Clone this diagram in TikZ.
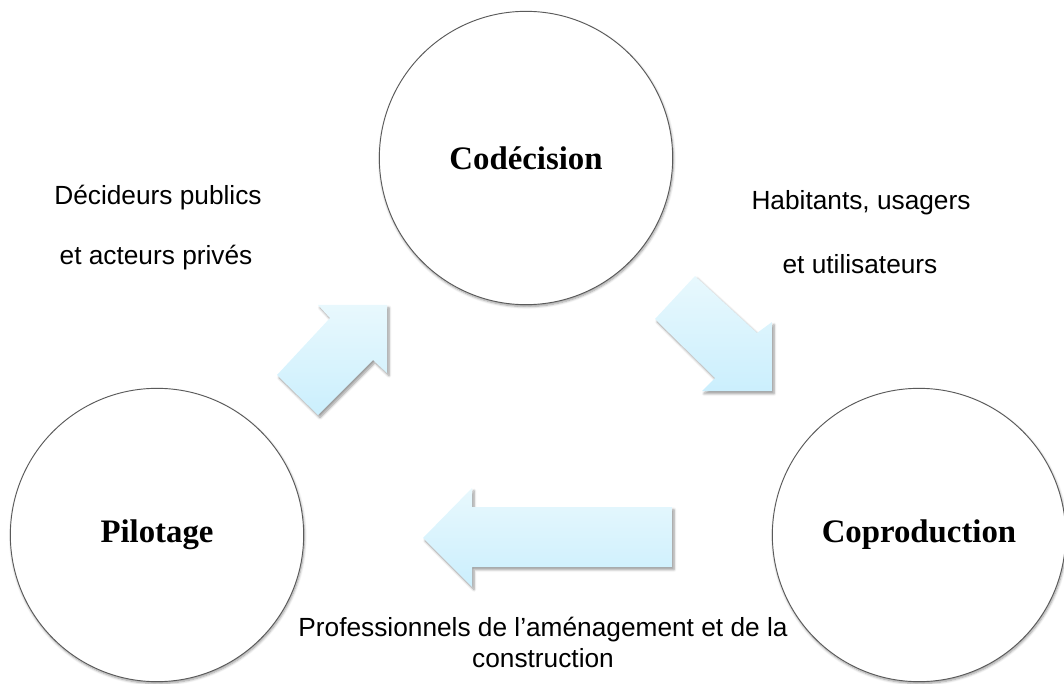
\documentclass[tikz,border=0pt]{standalone}
\usepackage{fontspec}
\setmainfont{Liberation Serif}
\newfontfamily\labelsans{Liberation Sans}
\usetikzlibrary{shadows.blur}
\definecolor{arrtop}{HTML}{E8F8FD}
\definecolor{arrbot}{HTML}{CBEFFD}
\definecolor{ringcol}{HTML}{5A5A5A}
\tikzset{
  stage/.style={circle, draw=ringcol, line width=0.7pt, fill=white, minimum size=220pt, inner sep=0pt,
    font=\fontsize{24.6}{28}\selectfont\bfseries,
    blur shadow={shadow xshift=0.6pt, shadow yshift=-1.4pt, shadow blur steps=6, shadow opacity=40}},
  blockarrow/.style={top color=arrtop, bottom color=arrbot, draw=none,
    blur shadow={shadow xshift=1.5pt, shadow yshift=-2pt, shadow blur steps=6, shadow opacity=40}},
  actor/.style={font=\labelsans\fontsize{19.7}{23}\selectfont, align=center, inner sep=0pt}
}
\begin{document}
\begin{tikzpicture}[x=0.75pt, y=-0.75pt]
\useasboundingbox (0,0) rectangle (1064,684);
% circles
\node[stage] (codec) at (526,158) {Codécision};
\node[stage] (pilot) at (157,535) {Pilotage};
\node[stage] (coprod) at (919,535) {Coproduction};
% block arrows
\path[blockarrow] (387,305) -- (318,305) -- (330,318) -- (277,375) -- (318,415) -- (373,360) -- (387,373) -- cycle;
\path[blockarrow] (772,391) -- (772,322) -- (757,333) -- (695,276) -- (655,319) -- (715,378) -- (702,391) -- cycle;
\path[blockarrow] (423,538) -- (472,488) -- (472,507) -- (672,507) -- (672,567) -- (472,567) -- (472,587) -- cycle;
% labels
\node[actor, anchor=base] (dec1) at (158,205) {Décideurs publics};
\node[actor, anchor=base] (dec2) at (156,265) {et acteurs privés};
\node[actor, anchor=base] (hab1) at (861,210) {Habitants, usagers};
\node[actor, anchor=base] (hab2) at (860,274) {et utilisateurs};
\node[actor, anchor=base] (pro1) at (543,636) {Professionnels de l’aménagement et de la};
\node[actor, anchor=base] (pro2) at (543,667) {construction};
\end{tikzpicture}
\end{document}
